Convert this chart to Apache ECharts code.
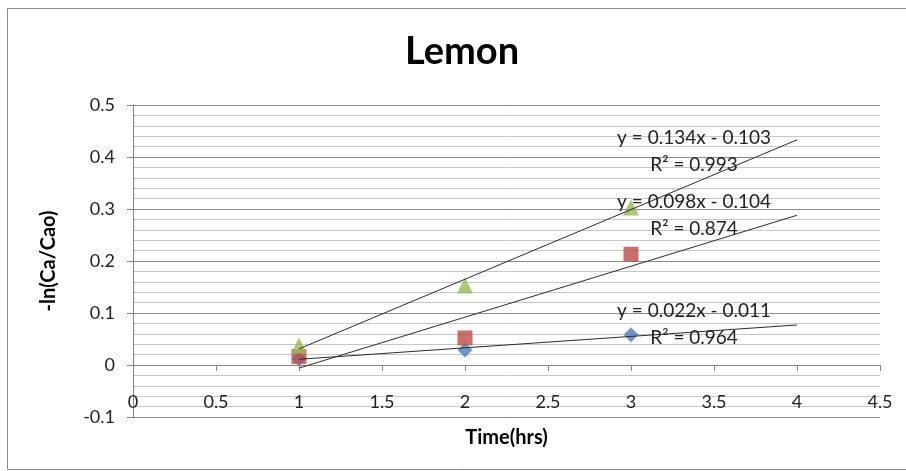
<!DOCTYPE html>
<html><head><meta charset="utf-8">
<script src="https://cdn.jsdelivr.net/npm/echarts@6/dist/echarts.min.js"></script>
<style>html,body{margin:0;padding:0;background:#fff}#c{width:906px;height:471px}</style>
</head><body><div id="c"></div>
<script>
// ---- data ----
const timeHrs = [1, 2, 3];
const seriesBlue = [0.012, 0.029, 0.058];
const seriesRed = [0.016, 0.052, 0.213];
const seriesGreen = [0.037, 0.153, 0.303];
// trendlines as printed on the chart (blue, red, green)
const trendSlopes = [0.022, 0.098, 0.134];
const trendIntercepts = [-0.011, -0.104, -0.103];
const trendR2 = [0.964, 0.874, 0.993];
const trendXRange = [1, 4];
const xTickLabels = ['0', '0.5', '1', '1.5', '2', '2.5', '3', '3.5', '4', '4.5'];
const yTickLabels = ['-0.1', '0', '0.1', '0.2', '0.3', '0.4', '0.5'];

// ---- presentation ----
const FONT = 'Lato';
const colors = ['#4A7EBB', '#BE4B48', '#98B954'];
const symbols = ['diamond', 'rect', 'triangle'];
const symbolSizes = [15, 15, 16];
const labelAnchors = [[3.38, 0.078], [3.38, 0.288], [3.38, 0.41]];
const pointSets = [seriesBlue, seriesRed, seriesGreen];

function fmt(v) { return String(Math.abs(v)); }

const series = [];
pointSets.forEach((vals, i) => {
  series.push({
    type: 'scatter', name: 's' + i,
    data: timeHrs.map((t, k) => [t, vals[k]]),
    symbol: symbols[i], symbolSize: symbolSizes[i],
    itemStyle: { color: colors[i] }, z: 2
  });
});
trendSlopes.forEach((m, i) => {
  const b = trendIntercepts[i];
  series.push({
    type: 'line', name: 't' + i, z: 3,
    data: trendXRange.map(x => [x, m * x + b]),
    symbol: 'none', silent: true,
    lineStyle: { color: '#2b2b2b', width: 1 },
    markPoint: {
      symbol: 'circle', symbolSize: 0, silent: true,
      data: [{ coord: labelAnchors[i] }],
      label: {
        show: true, position: 'inside', color: '#222',
        fontFamily: FONT, fontSize: 19, lineHeight: 27, align: 'center',
        formatter: () => 'y = ' + m + 'x ' + (b < 0 ? '- ' : '+ ') + fmt(b) + '\nR² = ' + trendR2[i]
      }
    }
  });
});

const chart = echarts.init(document.getElementById('c'));
chart.setOption({
  animation: false,
  backgroundColor: '#fff',
  grid: { left: 133, right: 26, top: 105, bottom: 54, containLabel: false, outerBoundsMode: 'none' },
  graphic: [
    { type: 'rect', shape: { x: 7.5, y: 8.5, width: 906, height: 461 }, style: { fill: 'none', stroke: '#8a8a8a', lineWidth: 1 }, z: 0 },
    { type: 'text', x: 462, y: 52, style: { text: 'Lemon', font: 'bold 38px ' + FONT, fill: '#000', textAlign: 'center', textVerticalAlign: 'middle' } }
  ],
  xAxis: {
    type: 'value', min: 0, max: 4.5, interval: 0.5,
    name: 'Time(hrs)', nameLocation: 'middle', nameGap: 11,
    nameTextStyle: { fontFamily: FONT, fontWeight: 'bold', fontSize: 20, color: '#000' },
    axisLine: { onZero: true, lineStyle: { color: '#868686' } },
    axisTick: { show: true, length: 6, lineStyle: { color: '#868686' } },
    axisLabel: { margin: -24, fontFamily: FONT, fontSize: 18, color: '#222',
      formatter: (v) => xTickLabels[Math.round(v / 0.5)] },
    splitLine: { show: false }
  },
  yAxis: {
    type: 'value', min: -0.1, max: 0.5, interval: 0.1,
    name: '-ln(Ca/Cao)', nameLocation: 'middle', nameGap: 74,
    nameTextStyle: { fontFamily: FONT, fontWeight: 'bold', fontSize: 20, color: '#000' },
    axisLine: { show: true, onZero: false, lineStyle: { color: '#868686' } },
    axisTick: { show: true, length: 6, lineStyle: { color: '#868686' } },
    axisLabel: { margin: 18, fontFamily: FONT, fontSize: 18, color: '#222',
      formatter: (v) => yTickLabels[Math.round((v + 0.1) / 0.1)] },
    splitLine: { show: true, lineStyle: { color: '#8c8c8c', width: 1 } },
    minorTick: { show: false, splitNumber: 5 },
    minorSplitLine: { show: true, lineStyle: { color: '#c6c6c6', width: 1 } }
  },
  series: series
});
</script>
</body></html>
